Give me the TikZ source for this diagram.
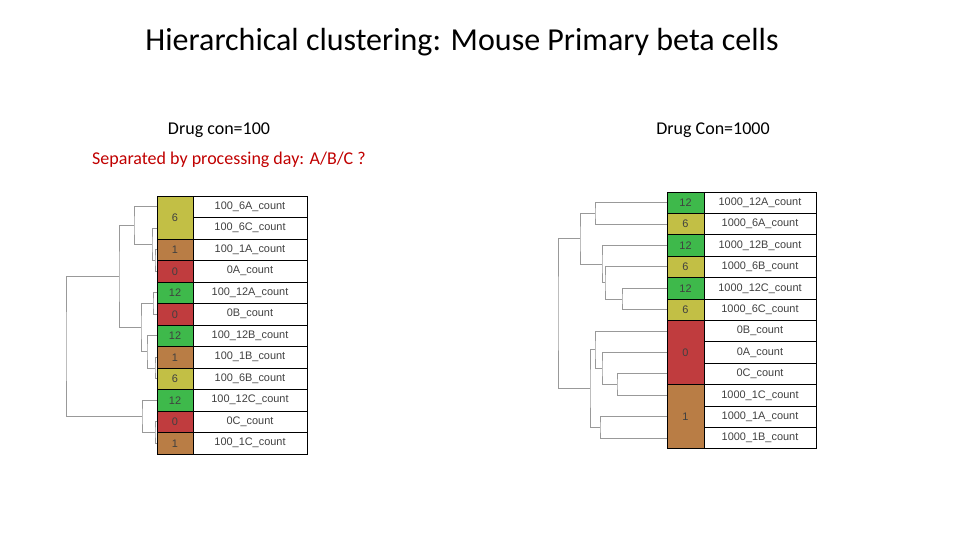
\documentclass[tikz,border=0pt]{standalone}
\usepackage{fontspec}
\setmainfont{Carlito}
\newfontfamily\cellfont{Liberation Sans}
\usetikzlibrary{calc}
\definecolor{cOlive}{HTML}{C2BF45}
\definecolor{cBrown}{HTML}{B97D45}
\definecolor{cRed}{HTML}{C03C3E}
\definecolor{cGreen}{HTML}{3EB94B}
\definecolor{titleRed}{HTML}{C00000}
\tikzset{
cell/.style={draw=black, line width=0.6pt, inner sep=0, font=\cellfont\fontsize{8.2}{9}\selectfont, text=black!75},
tree/.style={draw=gray!80, line width=0.7pt},
heading/.style={font=\fontsize{13.5}{16}\selectfont}}
% elbow join of two branches at horizontal position #2
\newcommand\joinat[4]{%
  \coordinate (#1m) at ($(#3)!.5!(#4)$);
  \coordinate (#1x) at (#2,0);
  \coordinate (#1) at (#1m -| #1x);
  \draw [tree] (#3) -| (#1) |- (#4);}
\begin{document}
\begin{tikzpicture}[x=0.75pt, y=-0.75pt]
\useasboundingbox (0,0) rectangle (960,540);
\node [font=\fontsize{24}{28}\selectfont] (title) at (462,42) {Hierarchical clustering: Mouse Primary beta cells};
\node [heading] (lefthead) at (219,130) {Drug con=100};
\node [heading, text=titleRed] (note) at (229,160) {Separated by processing day: A/B/C ?};
\node [heading] (righthead) at (713,130) {Drug Con=1000};

% left table
\foreach \lab [count=\i, evaluate={\y=196+21.5*(\i-0.5);}] in {100\_6A\_count, 100\_6C\_count, 100\_1A\_count, 0A\_count, 100\_12A\_count, 0B\_count, 100\_12B\_count, 100\_1B\_count, 100\_6B\_count, 100\_12C\_count, 0C\_count, 100\_1C\_count}{
  \node [cell, minimum width=114*0.75pt, minimum height=21.5*0.75pt] (L\i) at (250,\y) {\lab};
  \coordinate (l\i) at (157,\y);
}
\foreach \n/\c/\top/\rows in {6/cOlive/196/2, 1/cBrown/239/1, 0/cRed/260.5/1, 12/cGreen/282/1, 0/cRed/303.5/1, 12/cGreen/325/1, 1/cBrown/346.5/1, 6/cOlive/368/1, 12/cGreen/389.5/1, 0/cRed/411/1, 1/cBrown/432.5/1}{
  \node [cell, fill=\c, minimum width=36*0.75pt, minimum height=21.5*\rows*0.75pt] (Lc\top) at (175,{\top+10.75*\rows}) {\n};
}
\joinat{la}{155}{l3}{l4}
\joinat{lb}{152}{l2}{la}
\joinat{lc}{134}{l1}{lb}
\joinat{ld}{153}{l5}{l6}
\joinat{le}{155}{l8}{l9}
\joinat{lf}{147}{l7}{le}
\joinat{lg}{141}{ld}{lf}
\joinat{lh}{119}{lc}{lg}
\joinat{li}{155}{l11}{l12}
\joinat{lj}{142}{l10}{li}
\joinat{lroot}{66}{lh}{lj}

% right table
\foreach \lab [count=\i, evaluate={\y=192+21.4*(\i-0.5);}] in {1000\_12A\_count, 1000\_6A\_count, 1000\_12B\_count, 1000\_6B\_count, 1000\_12C\_count, 1000\_6C\_count, 0B\_count, 0A\_count, 0C\_count, 1000\_1C\_count, 1000\_1A\_count, 1000\_1B\_count}{
  \node [cell, minimum width=112*0.75pt, minimum height=21.4*0.75pt] (R\i) at (760,\y) {\lab};
  \coordinate (r\i) at (667,\y);
}
\foreach \n/\c/\top/\rows in {12/cGreen/192/1, 6/cOlive/213.4/1, 12/cGreen/234.8/1, 6/cOlive/256.2/1, 12/cGreen/277.6/1, 6/cOlive/299/1, 0/cRed/320.4/3, 1/cBrown/384.6/3}{
  \node [cell, fill=\c, minimum width=37*0.75pt, minimum height=21.4*\rows*0.75pt] (Rc\top) at (685.5,{\top+10.7*\rows}) {\n};
}
\joinat{ra}{595}{r1}{r2}
\joinat{rb}{622}{r5}{r6}
\joinat{rc}{605}{r4}{rb}
\joinat{rd}{602}{r3}{rc}
\joinat{re}{580}{ra}{rd}
\joinat{rf}{617}{r9}{r10}
\joinat{rg}{602}{r8}{rf}
\joinat{rh}{595}{r7}{rg}
\joinat{ri}{600}{r11}{r12}
\joinat{rj}{590}{rh}{ri}
\joinat{rroot}{558}{re}{rj}
\end{tikzpicture}
\end{document}
